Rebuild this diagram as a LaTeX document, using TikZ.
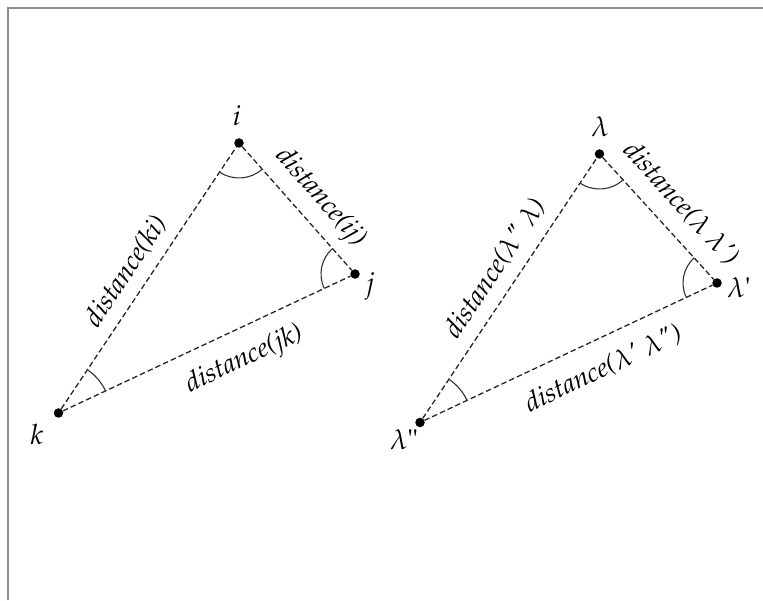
\documentclass[tikz,border=0pt]{standalone}
\usepackage[T1]{fontenc}
\usepackage{mathpazo}
\usetikzlibrary{calc,angles}
\begin{document}
\begin{tikzpicture}[x=1pt,y=1pt,
  dot/.style={circle,fill=black,inner sep=0pt,minimum size=9.5pt},
  edge/.style={dash pattern=on 5.5pt off 3pt, line width=1.3pt, draw=black!85},
  ang/.style={draw=black!80, line width=1.1pt, angle radius=#1},
  lbl/.style={font=\fontsize{27}{32}\selectfont\itshape, inner sep=0pt},
  ptl/.style={font=\fontsize{28}{32}\selectfont, inner sep=0pt},
  frame/.style={draw=black!45, line width=1.6pt}]
\useasboundingbox (0,0) rectangle (763,600);
\fill[white] (0,0) rectangle (763,600);
\draw[frame] (8,0) -- (8,592) -- (763,592);

% left triangle
\node[dot] (i) at (239,457) {};
\node[dot] (j) at (355,326) {};
\node[dot] (k) at (58.5,187) {};
\node[ptl] (li) at (237,484) {$i$};
\node[ptl] (lj) at (370,314) {$j$};
\node[ptl] (lk) at (37,166) {$k$};
\draw[edge] (k) -- (i);
\draw[edge] (i) -- (j);
\draw[edge] (k) -- (j);
\pic[ang=35pt] {angle = k--i--j};
\pic[ang=34pt] {angle = i--j--k};
\pic[ang=52pt] {angle = j--k--i};
\node[lbl, rotate=56.3] (dki) at ($(k)!0.479!(i)!23pt!90:(i)$) {distance(ki)};
\node[lbl, rotate=-48.5] (dij) at ($(i)!0.543!(j)!24pt!90:(j)$) {distance(ij)};
\node[lbl, rotate=25.1] (djk) at ($(k)!0.584!(j)!31pt!-90:(j)$) {distance(jk)};

% right triangle
\node[dot] (a) at (599.5,446) {};
\node[dot] (b) at (717,317) {};
\node[dot] (c) at (420,177.5) {};
\node[ptl] (la) at (600,473) {$\lambda$};
\node[ptl] (lb) at (739,312.5) {$\lambda$\textquotesingle};
\node[ptl] (lc) at (404,160) {$\lambda$\textquotedbl};
\draw[edge] (c) -- (a);
\draw[edge] (a) -- (b);
\draw[edge] (c) -- (b);
\pic[ang=35pt] {angle = c--a--b};
\pic[ang=34pt] {angle = a--b--c};
\pic[ang=52pt] {angle = b--c--a};
\node[lbl, rotate=56.3] (dca) at ($(c)!0.526!(a)!23.4pt!90:(a)$) {distance($\lambda$\textquotedbl\ $\lambda$)};
\node[lbl, rotate=-47.7] (dab) at ($(a)!0.526!(b)!27pt!90:(b)$) {distance($\lambda$ $\lambda$\textquotesingle)};
\node[lbl, rotate=25.1] (dbc) at ($(c)!0.576!(b)!29pt!-90:(b)$) {distance($\lambda$\textquotesingle\ $\lambda$\textquotedbl)};
\end{tikzpicture}
\end{document}
